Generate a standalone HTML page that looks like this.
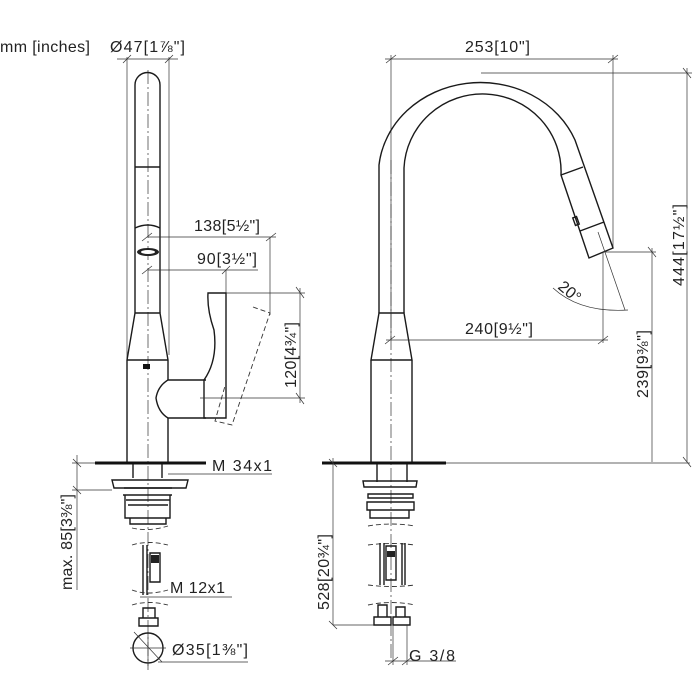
<!DOCTYPE html>
<html><head><meta charset="utf-8"><style>
html,body{margin:0;padding:0;background:#fff}
svg{display:block}
text{font-family:"Liberation Sans",sans-serif;fill:#222;font-size:16px}
.o{stroke:#1a1a1a;stroke-width:1.4;fill:none}
.d{stroke:#333;stroke-width:0.7;fill:none}
.c{stroke:#333;stroke-width:0.7;fill:none;stroke-dasharray:14 3 2 3}
.h{stroke:#333;stroke-width:0.9;fill:none;stroke-dasharray:5 3}
</style></head><body>
<svg width="700" height="700" viewBox="0 0 700 700" xmlns="http://www.w3.org/2000/svg">
<!-- LEFT VIEW -->
<text x="0" y="52" textLength="90">mm [inches]</text>
<text x="110" y="52" textLength="75">Ø47[1⅞"]</text>
<line class="d" x1="117" y1="59" x2="178" y2="59"/>
<line class="d" x1="123" y1="63" x2="131" y2="55"/><line class="d" x1="165" y1="63" x2="173" y2="55"/>
<line class="d" x1="127" y1="57" x2="127" y2="462"/><line class="d" x1="169" y1="57" x2="169" y2="355"/>
<line class="c" x1="148" y1="70" x2="148" y2="670"/>
<path class="o" d="M135,313 L135,85 A12.5,12.5 0 0 1 160,85 L160,313"/>
<line class="o" x1="135" y1="167" x2="160" y2="167" stroke-width="2"/>
<path class="o" d="M135,228 Q148,222 160,228"/>
<ellipse cx="148" cy="252" rx="11" ry="4" fill="#222"/>
<ellipse cx="148" cy="252" rx="7" ry="2" fill="#fff"/>
<text x="194" y="231" textLength="66">138[5½"]</text>
<line class="d" x1="148" y1="237" x2="276" y2="237"/>
<line class="d" x1="142" y1="241" x2="152" y2="233"/><line class="d" x1="266" y1="241" x2="276" y2="233"/>
<line class="d" x1="270" y1="237" x2="270" y2="315"/>
<text x="197" y="264" textLength="60">90[3½"]</text>
<line class="d" x1="148" y1="270" x2="258" y2="270"/>
<line class="d" x1="142" y1="274" x2="152" y2="266"/><line class="d" x1="222" y1="274" x2="230" y2="266"/>
<line class="d" x1="226" y1="270" x2="226" y2="293"/>
<!-- body -->
<path class="o" d="M135,313 L160,313 L168,360 L168,380 M127,360 L135,313 M127,360 L168,360"/>
<path class="o" d="M127,360 L127,462 M168,418 L168,462"/>
<rect x="143" y="364" width="7" height="5" fill="#111"/>
<path class="o" d="M168,380 L206,380 M168,418 L206,418 M168,380 Q158,386 156,398 Q158,412 168,418"/>
<path class="o" d="M208,293 L226,293 L226,418 L204,418 L204,380 Q218,360 214,330 Q207,310 208,293 Z"/>
<path class="h" d="M253,307 L270,313 L232,425 L215,421 L225,386"/>
<line class="d" x1="226" y1="293" x2="305" y2="293"/>
<line class="d" x1="200" y1="398" x2="305" y2="398"/>
<line class="d" x1="300" y1="288" x2="300" y2="403"/>
<line class="d" x1="296" y1="287" x2="304" y2="298"/><line class="d" x1="296" y1="393" x2="304" y2="404"/>
<text transform="translate(296,388) rotate(-90)" textLength="66">120[4¾"]</text>
<!-- plate -->
<line x1="95" y1="463" x2="206" y2="463" stroke="#111" stroke-width="3"/>
<text x="212" y="471" textLength="60">M 34x1</text>
<line class="d" x1="168" y1="474" x2="272" y2="474"/>
<path class="o" d="M133,464 L133,478 M162,464 L162,478"/>
<path class="o" d="M112,480 L188,480 L186,488 L114,488 Z"/>
<path class="o" d="M124,488 L172,488 M123,495 L172,495 M125,495 L125,518 L170,518 L170,495 M126,500 L170,500 M128,505 L168,505"/>
<path class="o" d="M130,518 L130,524 L166,524 L166,518"/>
<path class="h" d="M132,528 Q148,532 168,526"/>
<path class="h" d="M132,545 Q148,540 168,545"/>
<path class="o" d="M143,545 L143,595 M147,545 L147,595 M150,553 L160,553 L160,582 L150,582 Z"/>
<rect x="151" y="555" width="8" height="8" fill="#222"/>
<path class="h" d="M132,590 Q148,596 168,590"/>
<text x="170" y="593" textLength="55">M 12x1</text>
<line class="d" x1="140" y1="597" x2="232" y2="597"/>
<path class="h" d="M132,605 Q148,600 168,605"/>
<path class="o" d="M143,608 L155,608 L155,618 L143,618 Z M139,618 L158,618 L158,626 L139,626 Z"/>
<circle class="o" cx="148" cy="648" r="15"/>
<line class="d" x1="130" y1="648" x2="166" y2="648"/><line class="d" x1="148" y1="632" x2="148" y2="666"/>
<line class="d" x1="134" y1="632" x2="162" y2="662"/>
<text x="172" y="655" textLength="76">Ø35[1⅜"]</text>
<line class="d" x1="158" y1="662" x2="248" y2="662"/>
<line class="d" x1="77" y1="455" x2="77" y2="590"/>
<line class="d" x1="72" y1="463" x2="95" y2="463"/><line class="d" x1="72" y1="490" x2="112" y2="490"/>
<line class="d" x1="73" y1="459" x2="81" y2="467"/><line class="d" x1="73" y1="486" x2="81" y2="494"/>
<text transform="translate(72,590) rotate(-90)" textLength="96">max. 85[3⅜"]</text>
<!-- RIGHT VIEW -->
<text x="465" y="52" textLength="65">253[10"]</text>
<line class="d" x1="385" y1="59" x2="618" y2="59"/>
<line class="d" x1="386" y1="63" x2="396" y2="55"/><line class="d" x1="608" y1="63" x2="618" y2="55"/>
<line class="d" x1="391" y1="55" x2="391" y2="340"/>
<line class="d" x1="613" y1="55" x2="613" y2="248"/>
<line class="d" x1="481" y1="73" x2="692" y2="73"/>
<line class="d" x1="687" y1="68" x2="687" y2="462"/>
<line class="d" x1="683" y1="68" x2="691" y2="78"/><line class="d" x1="683" y1="457" x2="691" y2="467"/>
<text transform="translate(684,286) rotate(-90)" textLength="82">444[17½"]</text>
<line class="c" x1="391" y1="160" x2="391" y2="660"/>
<path class="o" d="M379,313 L379,165 A102,92 0 0 1 575,140 L613,248 L589,258 L561,175 A78,77 0 0 0 404,168 L404,313"/>
<line class="o" x1="561" y1="175" x2="583" y2="167" stroke-width="2"/>
<line class="o" x1="580" y1="231" x2="604" y2="222"/>
<rect x="574" y="217" width="4" height="8" class="o" transform="rotate(-20 576 221)"/>
<path class="o" d="M379,313 L404,313 L412,360 L371,360 Z M371,360 L371,462 M412,360 L412,462"/>
<line class="d" x1="605" y1="252" x2="656" y2="252"/>
<line class="d" x1="652" y1="248" x2="652" y2="462"/>
<line class="d" x1="648" y1="247" x2="656" y2="257"/>
<text transform="translate(648,398) rotate(-90)" textLength="68">239[9⅜"]</text>
<line class="d" x1="603" y1="252" x2="603" y2="343"/>
<line class="d" x1="386" y1="340" x2="608" y2="340"/>
<line class="d" x1="385" y1="344" x2="395" y2="336"/><line class="d" x1="598" y1="344" x2="608" y2="336"/>
<text x="465" y="334" textLength="68">240[9½"]</text>
<line class="d" x1="598" y1="232" x2="625" y2="310"/>
<path class="d" d="M553,288 Q580,313 628,310"/>
<text transform="translate(557,288) rotate(40)">20°</text>
<line x1="322" y1="463" x2="446" y2="463" stroke="#111" stroke-width="3"/>
<line class="d" x1="446" y1="463" x2="690" y2="463"/>
<line class="d" x1="333" y1="458" x2="333" y2="625"/>
<line class="d" x1="329" y1="459" x2="337" y2="467"/><line class="d" x1="329" y1="621" x2="337" y2="629"/>
<line class="d" x1="333" y1="625" x2="376" y2="625"/>
<text transform="translate(329,610) rotate(-90)" textLength="76">528[20¾"]</text>
<path class="o" d="M377,464 L377,482 M407,464 L407,482"/>
<path class="o" d="M363,481 L417,481 L416,487 L364,487 Z M368,494 L413,494 L413,498 L368,498 Z M367,502 L414,502 L414,510 L367,510 Z M370,510 L370,518 L409,518 L409,510"/>
<path class="h" d="M368,526 Q391,522 415,526"/>
<path class="h" d="M368,545 Q391,542 415,545"/>
<path class="o" d="M380,543 L380,585 M384,543 L384,585 M386,546 L396,546 L396,580 L386,580 Z M402,543 L402,585 M405,543 L405,585"/>
<rect x="387" y="551" width="8" height="6" fill="#222"/>
<path class="h" d="M368,585 Q391,588 415,585"/>
<path class="h" d="M368,605 Q391,600 415,605"/>
<path class="o" d="M378,605 L387,605 L387,617 L378,617 Z M396,607 L405,607 L405,617 L396,617 Z M374,617 L391,617 L391,625 L374,625 Z M393,617 L410,617 L410,625 L393,625 Z"/>
<line class="d" x1="393" y1="625" x2="393" y2="665"/><line class="d" x1="407" y1="625" x2="407" y2="665"/>
<text x="409" y="661" textLength="46">G 3/8</text>
<line class="d" x1="385" y1="661" x2="456" y2="661"/>
<line class="d" x1="388" y1="665" x2="398" y2="657"/><line class="d" x1="402" y1="665" x2="412" y2="657"/>
</svg>
</body></html>
